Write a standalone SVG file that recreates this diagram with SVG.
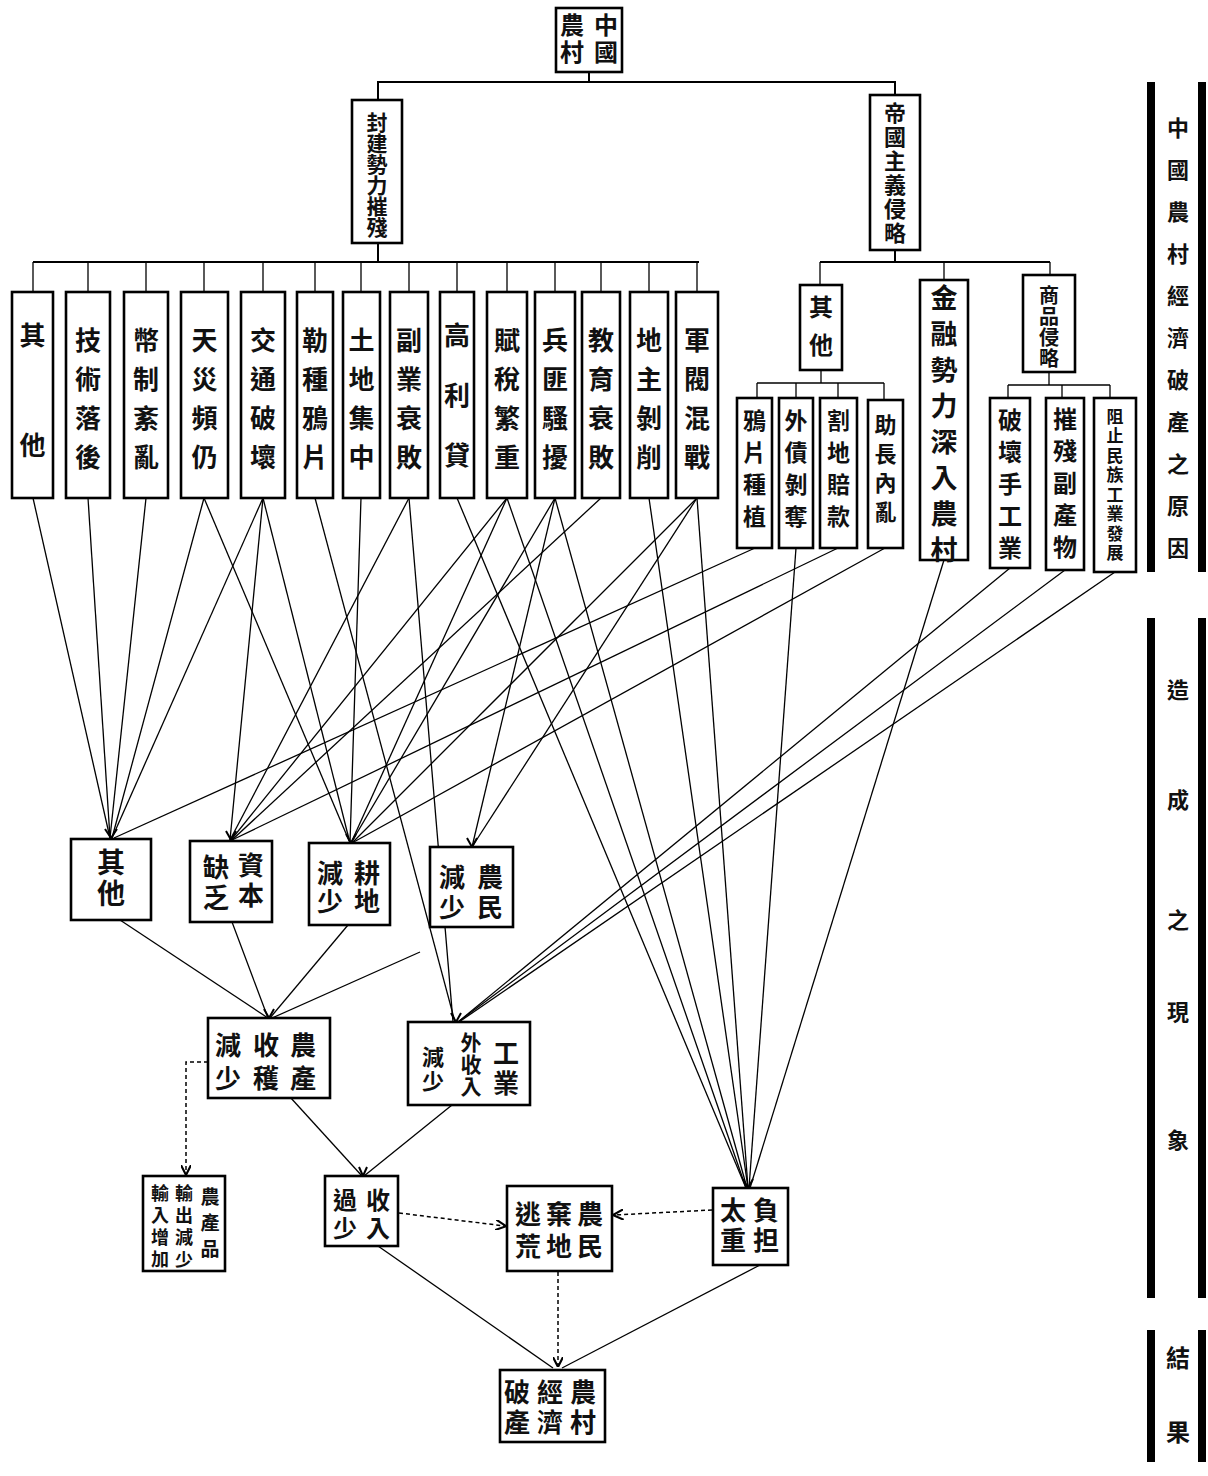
<svg xmlns="http://www.w3.org/2000/svg" width="1208" height="1476" viewBox="0 0 1208 1476">
<style>
.b{fill:#fff;stroke:#000;stroke-width:2.6}
.t{font-family:"Noto Sans CJK TC","Noto Sans CJK SC",sans-serif;font-weight:700;fill:#111;writing-mode:vertical-rl;text-anchor:middle}
.c line,.c polyline{stroke:#000;stroke-width:1.3;fill:none}
.c .k{stroke-width:2}
.c .d{stroke-dasharray:4 3;stroke-width:1.5}
.c .tip{fill:none;stroke:#000;stroke-width:2}
.bar{fill:#000}
</style>
<defs>
<marker id="a" viewBox="0 0 10 10" refX="9" refY="5" markerWidth="7" markerHeight="7" orient="auto-start-reverse"><path d="M0,0 L10,5 L0,10" fill="none" stroke="#000" stroke-width="2"/></marker>
</defs>
<rect width="1208" height="1476" fill="#fff"/>

<g class="c" id="connectors">
<polyline class="k" points="589,72 589,82"/>
<polyline class="k" points="378,100 378,82 895,82 895,95"/>
<polyline class="k" points="378,243 378,262"/>
<line class="k" x1="33" y1="262" x2="699" y2="262"/>
<line x1="33" y1="262" x2="33" y2="292"/><line x1="88" y1="262" x2="88" y2="292"/><line x1="146" y1="262" x2="146" y2="292"/><line x1="204" y1="262" x2="204" y2="292"/><line x1="263" y1="262" x2="263" y2="292"/><line x1="315" y1="262" x2="315" y2="292"/><line x1="361" y1="262" x2="361" y2="292"/><line x1="409" y1="262" x2="409" y2="292"/><line x1="457" y1="262" x2="457" y2="292"/><line x1="507" y1="262" x2="507" y2="292"/><line x1="555" y1="262" x2="555" y2="292"/><line x1="601" y1="262" x2="601" y2="292"/><line x1="649" y1="262" x2="649" y2="292"/><line x1="697" y1="262" x2="697" y2="292"/>
<polyline class="k" points="895,250 895,262"/>
<line class="k" x1="820" y1="262" x2="1050" y2="262"/>
<line x1="820" y1="262" x2="820" y2="285"/><line x1="944" y1="262" x2="944" y2="280"/><line x1="1050" y1="262" x2="1050" y2="275"/>
<line x1="821" y1="370" x2="821" y2="383"/>
<line x1="757" y1="383" x2="884" y2="383"/>
<line x1="757" y1="383" x2="757" y2="398"/><line x1="796" y1="383" x2="796" y2="398"/><line x1="838" y1="383" x2="838" y2="398"/><line x1="884" y1="383" x2="884" y2="400"/>
<line x1="1049" y1="372" x2="1049" y2="385"/>
<line x1="1008" y1="385" x2="1110" y2="385"/>
<line x1="1008" y1="385" x2="1008" y2="398"/><line x1="1062" y1="385" x2="1062" y2="398"/><line x1="1110" y1="385" x2="1110" y2="398"/>

<line x1="33" y1="498" x2="110" y2="838"/>
<line x1="88" y1="498" x2="110" y2="838"/>
<line x1="146" y1="498" x2="110" y2="838"/>
<line x1="204" y1="498" x2="112" y2="838"/>
<line x1="263" y1="498" x2="112" y2="838"/>
<line x1="755" y1="548" x2="114" y2="838"/>
<line x1="263" y1="498" x2="230" y2="840"/>
<line x1="409" y1="498" x2="230" y2="840"/>
<line x1="507" y1="498" x2="231" y2="840"/>
<line x1="601" y1="498" x2="232" y2="840"/>
<line x1="838" y1="548" x2="232" y2="840"/>
<line x1="263" y1="498" x2="350" y2="843"/>
<line x1="204" y1="498" x2="350" y2="843"/>
<line x1="361" y1="498" x2="350" y2="843"/>
<line x1="507" y1="498" x2="351" y2="843"/>
<line x1="555" y1="498" x2="351" y2="843"/>
<line x1="697" y1="498" x2="352" y2="843"/>
<line x1="885" y1="548" x2="352" y2="843"/>
<line x1="555" y1="498" x2="472" y2="847"/>
<line x1="697" y1="498" x2="472" y2="847"/>
<line x1="315" y1="498" x2="455" y2="1022"/>
<line x1="409" y1="498" x2="453" y2="1022"/>
<line x1="1010" y1="568" x2="458" y2="1022"/>
<line x1="1065" y1="570" x2="458" y2="1022"/>
<line x1="1115" y1="572" x2="459" y2="1022"/>
<line x1="457" y1="498" x2="746" y2="1188"/>
<line x1="507" y1="498" x2="746" y2="1188"/>
<line x1="555" y1="498" x2="747" y2="1188"/>
<line x1="649" y1="498" x2="748" y2="1188"/>
<line x1="697" y1="498" x2="748" y2="1188"/>
<line x1="796" y1="548" x2="749" y2="1188"/>
<line x1="944" y1="560" x2="750" y2="1188"/>

<line x1="120" y1="920" x2="268" y2="1018"/>
<line x1="232" y1="922" x2="268" y2="1018"/>
<line x1="348" y1="925" x2="270" y2="1018"/>
<line x1="420" y1="952" x2="272" y2="1018"/>
<line x1="290" y1="1097" x2="362" y2="1176"/>
<line x1="452" y1="1105" x2="364" y2="1176"/>
<line x1="378" y1="1246" x2="553" y2="1368"/>
<line x1="760" y1="1265" x2="562" y2="1368"/>
<polyline class="d" points="208,1062 186,1062 186,1174" marker-end="url(#a)"/>
<line class="d" x1="399" y1="1213" x2="505" y2="1226" marker-end="url(#a)"/>
<line class="d" x1="712" y1="1210" x2="614" y2="1215" marker-end="url(#a)"/>
<line class="d" x1="558" y1="1272" x2="558" y2="1366" marker-end="url(#a)"/>
<path class="tip" d="M105,829 L111,838 L117,829"/>
<path class="tip" d="M226,831 L231,840 L236,831"/>
<path class="tip" d="M346,834 L351,843 L356,834"/>
<path class="tip" d="M467,838 L472,847 L477,838"/>
<path class="tip" d="M451,1013 L456,1022 L461,1013"/>
<path class="tip" d="M743,1179 L748,1188 L753,1179"/>
<path class="tip" d="M264,1009 L269,1018 L274,1009"/>
<path class="tip" d="M359,1167 L363,1176 L367,1167"/>
</g>

<g id="n-root"><rect class="b" x="556" y="8" width="66" height="64"/><text class="t" x="606" y="40" font-size="24" letter-spacing="3">中國</text><text class="t" x="572" y="40" font-size="24" letter-spacing="3">農村</text></g>
<g id="n-feudal"><rect class="b" x="352" y="100" width="50" height="143"/><text class="t" x="377" y="175" font-size="21">封建勢力摧殘</text></g>
<g id="n-imperial"><rect class="b" x="870" y="95" width="50" height="155"/><text class="t" x="895" y="174" font-size="22" letter-spacing="2">帝國主義侵略</text></g>

<g id="n-r1-1"><rect class="b" x="12" y="292" width="41" height="206"/><text class="t" x="32.5" y="432" font-size="26" letter-spacing="84">其他</text></g>
<g id="n-r1-2"><rect class="b" x="66" y="292" width="44" height="206"/><text class="t" x="88" y="405" font-size="26" letter-spacing="13">技術落後</text></g>
<g id="n-r1-3"><rect class="b" x="124" y="292" width="44" height="206"/><text class="t" x="146" y="405" font-size="26" letter-spacing="13">幣制紊亂</text></g>
<g id="n-r1-4"><rect class="b" x="181" y="292" width="47" height="206"/><text class="t" x="204.5" y="405" font-size="26" letter-spacing="13">天災頻仍</text></g>
<g id="n-r1-5"><rect class="b" x="241" y="292" width="44" height="206"/><text class="t" x="263" y="405" font-size="26" letter-spacing="13">交通破壞</text></g>
<g id="n-r1-6"><rect class="b" x="297" y="292" width="36" height="206"/><text class="t" x="315" y="405" font-size="26" letter-spacing="13">勒種鴉片</text></g>
<g id="n-r1-7"><rect class="b" x="343" y="292" width="37" height="206"/><text class="t" x="361.5" y="405" font-size="26" letter-spacing="13">土地集中</text></g>
<g id="n-r1-8"><rect class="b" x="390" y="292" width="38" height="206"/><text class="t" x="409" y="405" font-size="26" letter-spacing="13">副業衰敗</text></g>
<g id="n-r1-9"><rect class="b" x="440" y="292" width="34" height="206"/><text class="t" x="457" y="412" font-size="26" letter-spacing="34">高利貸</text></g>
<g id="n-r1-10"><rect class="b" x="487" y="292" width="40" height="206"/><text class="t" x="507" y="405" font-size="26" letter-spacing="13">賦稅繁重</text></g>
<g id="n-r1-11"><rect class="b" x="535" y="292" width="40" height="206"/><text class="t" x="555" y="405" font-size="26" letter-spacing="13">兵匪騷擾</text></g>
<g id="n-r1-12"><rect class="b" x="582" y="292" width="38" height="206"/><text class="t" x="601" y="405" font-size="26" letter-spacing="13">教育衰敗</text></g>
<g id="n-r1-13"><rect class="b" x="630" y="292" width="38" height="206"/><text class="t" x="649" y="405" font-size="26" letter-spacing="13">地主剝削</text></g>
<g id="n-r1-14"><rect class="b" x="676" y="292" width="42" height="206"/><text class="t" x="697" y="405" font-size="26" letter-spacing="13">軍閥混戰</text></g>

<g id="n-im-other"><rect class="b" x="800" y="285" width="42" height="85"/><text class="t" x="821" y="333" font-size="24" letter-spacing="14">其他</text></g>
<g id="n-im-fin"><rect class="b" x="920" y="280" width="48" height="280"/><text class="t" x="944" y="428" font-size="27" letter-spacing="9">金融勢力深入農村</text></g>
<g id="n-im-com"><rect class="b" x="1023" y="275" width="52" height="97"/><text class="t" x="1049" y="327" font-size="20" letter-spacing="1">商品侵略</text></g>
<g id="n-im-1"><rect class="b" x="737" y="398" width="35" height="150"/><text class="t" x="754.5" y="473" font-size="23" letter-spacing="9">鴉片種植</text></g>
<g id="n-im-2"><rect class="b" x="779" y="398" width="34" height="150"/><text class="t" x="796" y="473" font-size="23" letter-spacing="9">外債剝奪</text></g>
<g id="n-im-3"><rect class="b" x="820" y="398" width="37" height="150"/><text class="t" x="838.5" y="473" font-size="23" letter-spacing="9">割地賠款</text></g>
<g id="n-im-4"><rect class="b" x="868" y="400" width="35" height="148"/><text class="t" x="885.5" y="472" font-size="22" letter-spacing="7">助長內亂</text></g>
<g id="n-im-5"><rect class="b" x="990" y="398" width="40" height="170"/><text class="t" x="1010" y="488" font-size="24" letter-spacing="8">破壞手工業</text></g>
<g id="n-im-6"><rect class="b" x="1046" y="398" width="38" height="172"/><text class="t" x="1065" y="487" font-size="24" letter-spacing="8">摧殘副產物</text></g>
<g id="n-im-7"><rect class="b" x="1094" y="398" width="42" height="174"/><text class="t" x="1115" y="486" font-size="17" letter-spacing="2.5">阻止民族工業發展</text></g>

<g id="n-l3-1"><rect class="b" x="71" y="839" width="80" height="81"/><text class="t" x="111" y="879" font-size="28" letter-spacing="3">其他</text></g>
<g id="n-l3-2"><rect class="b" x="190" y="841" width="82" height="81"/><text class="t" x="251" y="882" font-size="26" letter-spacing="4">資本</text><text class="t" x="216" y="884" font-size="26" letter-spacing="4">缺乏</text></g>
<g id="n-l3-3"><rect class="b" x="309" y="843" width="81" height="82"/><text class="t" x="367" y="888" font-size="26" letter-spacing="2">耕地</text><text class="t" x="330" y="888" font-size="26" letter-spacing="2">減少</text></g>
<g id="n-l3-4"><rect class="b" x="430" y="847" width="83" height="80"/><text class="t" x="490" y="894" font-size="26" letter-spacing="4">農民</text><text class="t" x="452" y="894" font-size="26" letter-spacing="4">減少</text></g>

<g id="n-l4-1"><rect class="b" x="208" y="1018" width="122" height="80"/><text class="t" x="303" y="1065" font-size="26" letter-spacing="7">農產</text><text class="t" x="266" y="1065" font-size="26" letter-spacing="7">收穫</text><text class="t" x="228" y="1065" font-size="26" letter-spacing="7">減少</text></g>
<g id="n-l4-2"><rect class="b" x="408" y="1022" width="122" height="83"/><text class="t" x="506" y="1070" font-size="26" letter-spacing="4">工業</text><text class="t" x="471" y="1065" font-size="21" letter-spacing="1">外收入</text><text class="t" x="433" y="1070" font-size="22" letter-spacing="2">減少</text></g>

<g id="n-l5-1"><rect class="b" x="143" y="1176" width="82" height="95"/><text class="t" x="210" y="1226" font-size="19" letter-spacing="7">農產品</text><text class="t" x="184" y="1228" font-size="18" letter-spacing="4">輸出減少</text><text class="t" x="160" y="1228" font-size="18" letter-spacing="4">輸入增加</text></g>
<g id="n-l5-2"><rect class="b" x="325" y="1176" width="73" height="70"/><text class="t" x="378" y="1216" font-size="24" letter-spacing="4">收入</text><text class="t" x="345" y="1216" font-size="24" letter-spacing="4">過少</text></g>
<g id="n-l5-3"><rect class="b" x="507" y="1186" width="105" height="85"/><text class="t" x="590" y="1233" font-size="26" letter-spacing="6">農民</text><text class="t" x="559" y="1233" font-size="26" letter-spacing="6">棄地</text><text class="t" x="528" y="1233" font-size="26" letter-spacing="6">逃荒</text></g>
<g id="n-l5-4"><rect class="b" x="713" y="1188" width="75" height="77"/><text class="t" x="766" y="1227" font-size="26" letter-spacing="4">負担</text><text class="t" x="733" y="1227" font-size="26" letter-spacing="4">太重</text></g>
<g id="n-final"><rect class="b" x="500" y="1370" width="105" height="72"/><text class="t" x="583" y="1409" font-size="26" letter-spacing="4">農村</text><text class="t" x="550" y="1409" font-size="26" letter-spacing="4">經濟</text><text class="t" x="517" y="1409" font-size="26" letter-spacing="4">破產</text></g>

<g id="sidebar">
<rect class="bar" x="1147" y="82" width="8" height="490"/><rect class="bar" x="1198" y="82" width="8" height="490"/>
<text class="t" x="1178" y="348" font-size="22" letter-spacing="20">中國農村經濟破產之原因</text>
<rect class="bar" x="1147" y="618" width="8" height="680"/><rect class="bar" x="1198" y="618" width="8" height="680"/>
<text class="t" x="1178" y="690" font-size="22">造</text>
<text class="t" x="1178" y="800" font-size="22">成</text>
<text class="t" x="1178" y="920" font-size="22">之</text>
<text class="t" x="1178" y="1012" font-size="22">現</text>
<text class="t" x="1178" y="1140" font-size="22">象</text>
<rect class="bar" x="1147" y="1330" width="8" height="132"/><rect class="bar" x="1198" y="1330" width="8" height="132"/>
<text class="t" x="1178" y="1358" font-size="24">結</text>
<text class="t" x="1178" y="1432" font-size="24">果</text>
</g>
</svg>
